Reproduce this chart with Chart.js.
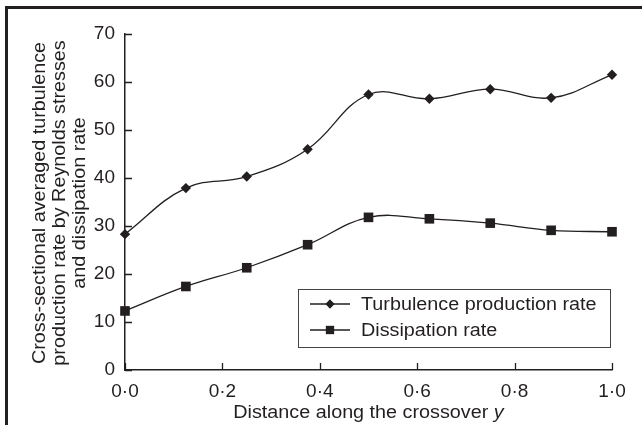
<!DOCTYPE html>
<html>
<head>
<meta charset="utf-8">
<script src="https://cdn.jsdelivr.net/npm/chart.js@4.4.1/dist/chart.umd.min.js"></script>
<style>
    body { margin: 0; background: #fff; }
    #wrap { position: relative; width: 642px; height: 425px; overflow: hidden; }
    #frame {
        position: absolute; left: 5px; top: 6px; width: 700px; height: 500px;
        border-left: 3px solid #231f20; border-top: 3px solid #231f20;
    }
    canvas { position: absolute; left: 0; top: 0; }
</style>
</head>
<body>
<div id="wrap">
    <div id="frame"></div>
    <canvas id="chart" width="642" height="425"></canvas>
</div>
<script>
// --- Data ---
const distance = [0, 0.125, 0.25, 0.375, 0.5, 0.625, 0.75, 0.875, 1.0];
const turbulenceProduction = [28.3, 37.9, 40.3, 46.0, 57.4, 56.5, 58.5, 56.7, 61.5];
const dissipation = [12.3, 17.4, 21.3, 26.1, 31.8, 31.5, 30.6, 29.1, 28.8];
const xTicks = [0, 0.2, 0.4, 0.6, 0.8, 1.0];
const xTickLabels = ['0·0', '0·2', '0·4', '0·6', '0·8', '1·0'];
const yTicks = [0, 10, 20, 30, 40, 50, 60, 70];
const yTitleLines = ['Cross-sectional averaged turbulence', 'production rate by Reynolds stresses', 'and dissipation rate'];
const xTitle = 'Distance along the crossover ';
const xTitleVar = 'y';

const INK = '#231f20';
const FONT = "'Liberation Sans', Arial, sans-serif";
const TXT = 17.5;      // text size in the figure
const WIDE = 1.13;     // the figure's font runs wider than Arial

// draws a string stretched along its own direction
function wideText(ctx, str, x, y, align) {
    ctx.save();
    ctx.translate(x, y);
    ctx.scale(WIDE, 1);
    ctx.textAlign = align;
    ctx.fillText(str, 0, 0);
    ctx.restore();
}

// inward tick marks, axis titles and the boxed legend
const decorations = {
    id: 'decorations',
    afterDraw(chart) {
        const ctx = chart.ctx;
        const area = chart.chartArea;
        const xs = chart.scales.x, ys = chart.scales.y;
        ctx.save();
        ctx.strokeStyle = INK;
        ctx.lineWidth = 1.3;
        ctx.beginPath();
        xTicks.forEach(v => {
            const px = Math.round(xs.getPixelForValue(v)) + 0.5;
            ctx.moveTo(px, area.bottom);
            ctx.lineTo(px, area.bottom - 7);
        });
        yTicks.forEach(v => {
            const py = Math.round(ys.getPixelForValue(v)) + 0.5;
            ctx.moveTo(area.left, py);
            ctx.lineTo(area.left + 7, py);
        });
        ctx.stroke();

        ctx.fillStyle = INK;
        ctx.font = TXT + 'px ' + FONT;
        ctx.textBaseline = 'alphabetic';

        // y title (three lines, rotated)
        ctx.save();
        ctx.translate(0, 203);
        ctx.rotate(-Math.PI / 2);
        yTitleLines.forEach((line, i) => wideText(ctx, line, 0, 45 + i * 20, 'center'));
        ctx.restore();

        // x title with italic variable
        const w1 = ctx.measureText(xTitle).width * WIDE;
        ctx.font = 'italic ' + TXT + 'px ' + FONT;
        const w2 = ctx.measureText(xTitleVar).width * WIDE;
        const tx = (area.left + area.right) / 2 - (w1 + w2) / 2;
        ctx.font = TXT + 'px ' + FONT;
        wideText(ctx, xTitle, tx, 418, 'left');
        ctx.font = 'italic ' + TXT + 'px ' + FONT;
        wideText(ctx, xTitleVar, tx + w1, 418, 'left');

        // legend box
        const bx = 298, by = 289, bw = 312, bh = 58;
        ctx.lineWidth = 1;
        ctx.strokeStyle = '#444';
        ctx.strokeRect(bx + 0.5, by + 0.5, bw, bh);
        ctx.font = TXT + 'px ' + FONT;
        chart.data.datasets.forEach((ds, i) => {
            const ly = by + 15 + i * 26;
            ctx.strokeStyle = INK;
            ctx.lineWidth = 1.3;
            ctx.beginPath();
            ctx.moveTo(bx + 12, ly);
            ctx.lineTo(bx + 52, ly);
            ctx.stroke();
            ctx.fillStyle = INK;
            Chart.helpers.drawPoint(ctx, {
                pointStyle: ds.pointStyle,
                radius: ds.pointRadius * 0.85,
                borderWidth: 0
            }, bx + 32, ly);
            ctx.fill();
            wideText(ctx, ds.label, bx + 63, ly + 6, 'left');
        });
        ctx.restore();
    }
};

new Chart(document.getElementById('chart'), {
    type: 'line',
    data: {
        datasets: [
            {
                label: 'Turbulence production rate',
                data: distance.map((x, i) => ({ x: x, y: turbulenceProduction[i] })),
                borderColor: INK,
                borderWidth: 1.3,
                backgroundColor: INK,
                pointStyle: 'rectRot',
                pointRadius: 5.2,
                pointBorderWidth: 0,
                tension: 0.4
            },
            {
                label: 'Dissipation rate',
                data: distance.map((x, i) => ({ x: x, y: dissipation[i] })),
                borderColor: INK,
                borderWidth: 1.3,
                backgroundColor: INK,
                pointStyle: 'rect',
                pointRadius: 6.8,
                pointBorderWidth: 0,
                tension: 0.4
            }
        ]
    },
    options: {
        responsive: false,
        animation: false,
        clip: false,
        layout: { padding: { left: 0, right: 30, top: 34, bottom: 0 } },
        plugins: { legend: { display: false }, tooltip: { enabled: false } },
        scales: {
            x: {
                type: 'linear',
                min: 0,
                max: 1,
                afterBuildTicks: s => { s.ticks = xTicks.map(v => ({ value: v })); },
                afterFit: s => { s.height = 55; },
                grid: { display: false, drawTicks: false },
                border: { display: true, color: INK, width: 1.5 },
                ticks: {
                    color: INK,
                    font: { family: FONT, size: 19 },
                    padding: 10,
                    maxRotation: 0,
                    callback: (v, i) => xTickLabels[i]
                }
            },
            y: {
                min: 0,
                max: 70,
                afterBuildTicks: s => { s.ticks = yTicks.map(v => ({ value: v })); },
                afterFit: s => { s.width = 125; },
                grid: { display: false, drawTicks: false },
                border: { display: true, color: INK, width: 1.5 },
                ticks: {
                    color: INK,
                    font: { family: FONT, size: 19 },
                    padding: 10
                }
            }
        }
    },
    plugins: [decorations]
});
</script>
</body>
</html>
